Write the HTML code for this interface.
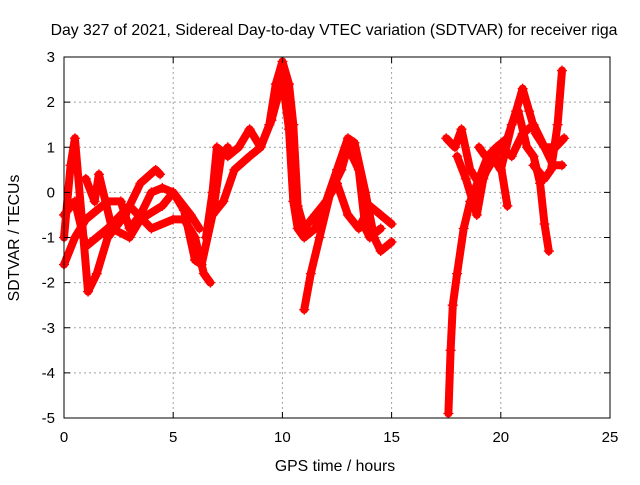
<!DOCTYPE html>
<html><head><meta charset="utf-8"><style>
body{margin:0;background:#fff}
svg text{font-family:"Liberation Sans",sans-serif;font-size:15px;fill:#000}
svg text.big{font-size:15.8px}
</style></head><body>
<svg id="chart" width="640" height="480" viewBox="0 0 640 480" xmlns="http://www.w3.org/2000/svg">
<rect width="640" height="480" fill="#fff"/>
<g id="grid"></g>
<g id="series"></g>
<rect x="64" y="57" width="546" height="361" fill="none" stroke="#000" stroke-width="1"/>
<g id="ticks"></g>
<text class="big" x="334" y="35" text-anchor="middle">Day 327 of 2021, Sidereal Day-to-day VTEC variation (SDTVAR) for receiver riga</text>
<text class="big" x="335" y="471" text-anchor="middle">GPS time / hours</text>
<text class="big" transform="translate(19,238) rotate(-90)" text-anchor="middle">SDTVAR / TECUs</text>
</svg>
<script>
const xTicks=[0,5,10,15,20,25];
const yTicks=[3,2,1,0,-1,-2,-3,-4,-5];
const tA=[0,0.3,0.5,0.8,1.1,1.5,2,2.8,3.5,4.2,4.4];
const vA=[-1.0,0.6,1.2,-0.5,-2.2,-1.8,-1.0,-0.5,0.2,0.5,0.4];
const tB=[0,0.5,1,2,3,4,5,5.5,6,6.4,6.7];
const vB=[-0.5,-0.2,-1.2,-0.8,-0.3,-0.8,-0.6,-0.6,-1.0,-1.8,-2.0];
const tC=[0,0.5,1,2,2.6,3,3.5,4,4.5,5,5.5,6,6.3,6.8,7.2,7.5];
const vC=[-1.6,-1.0,-0.6,-0.2,-0.2,-0.8,-0.5,0,0.1,0,-0.4,-1.5,-1.6,-0.5,0.8,1.0];
const tD=[1,1.4,1.6,2.2,3,3.5,4.5,5,5.8,6.2];
const vD=[0.3,-0.2,0.4,-0.8,-1.0,-0.6,-0.3,0,-0.5,-0.8];
const tE=[6.5,6.8,7.0,7.5,8.0,8.5,9,9.4,9.7,10.0,10.3,10.5,10.7,11,11.5,12,12.5,13,13.5,14,14.5,15];
const vE=[-1.0,0,1.0,0.8,1.0,1.4,1.0,1.5,2.4,2.9,2.4,1.5,-0.3,-0.8,-0.5,-0.2,0.2,-0.5,-0.8,-0.3,-0.5,-0.7];
const tF=[6.8,7.3,7.8,8.5,9.0,9.5,10.0,10.3,10.5,10.7,11.0,11.5,12,12.5,13,13.3,13.8,14.2,14.5,15];
const vF=[-0.5,-0.2,0.5,0.8,1.0,1.6,2.5,1.4,-0.2,-0.8,-1.0,-0.8,-0.2,0.5,1.2,1.1,0,-1.0,-1.3,-1.1];
const tG=[11.0,11.3,11.7,12.2,12.7,13.0,13.5,13.8,14.0,14.5];
const vG=[-2.6,-1.8,-1.0,0,0.5,1.0,0.5,-0.8,-1.0,-0.8];
const tR1=[17.6,17.7,17.8,18,18.3,18.6,19.0,19.4,19.8,20.3,20.7,21.0,21.3,21.6,22.0,22.4,22.8];
const vR1=[-4.9,-3.5,-2.5,-1.8,-0.8,-0.2,0.3,0.8,1.0,1.2,1.8,2.3,1.8,1.3,1.0,0.6,0.6];
const tR2=[17.5,17.9,18.2,18.6,19.0,19.5,20.0,20.5,21.0,21.5,22.0,22.5,22.9];
const vR2=[1.2,1.0,1.4,0.5,0.2,0.6,1.0,0.8,1.3,1.5,1.0,1.0,1.2];
const tR3=[18.0,18.4,18.9,19.2,19.6,20.0,20.5,20.8,21.2,21.5,21.8,22.0,22.2];
const vR3=[0.8,0.3,-0.5,0.3,0.8,0.5,1.5,1.8,1.0,0.8,0.2,-0.7,-1.3];
const tR4=[19.0,19.3,19.7,20.0,20.3];
const vR4=[1.0,0.8,0.8,0.6,-0.3];
const tR5=[21.5,22.0,22.3,22.6,22.8];
const vR5=[0.6,0.3,0.5,1.5,2.7];
const X0=64,X1=610,Y0=418,Y1=57;
const xs=t=>X0+(t-0)/25*(X1-X0);
const ys=v=>Y0-(v+5)/8*(Y0-Y1);
const NS="http://www.w3.org/2000/svg";
const grid=document.getElementById('grid'),ticks=document.getElementById('ticks'),ser=document.getElementById('series');
function mk(tag,attrs,parent){const e=document.createElementNS(NS,tag);for(const k in attrs)e.setAttribute(k,attrs[k]);parent.appendChild(e);return e;}
xTicks.forEach(t=>{const x=xs(t);
 if(t>0&&t<25){const g=mk('line',{x1:x,x2:x,y1:Y1,y2:Y0,stroke:'#a0a0a0','stroke-dasharray':'2,3'},grid);
 
 }
 mk('line',{x1:x,x2:x,y1:Y0,y2:Y0-6,stroke:'#000'},ticks);mk('line',{x1:x,x2:x,y1:Y1,y2:Y1+6,stroke:'#000'},ticks);
 const l=mk('text',{x:x,y:Y0+24,'text-anchor':'middle'},ticks);l.textContent=t;
 
 });
yTicks.forEach(v=>{const y=ys(v);
 if(v>-5&&v<3){const g=mk('line',{x1:X0,x2:X1,y1:y,y2:y,stroke:'#a0a0a0','stroke-dasharray':'2,3'},grid);
 
 }
 mk('line',{x1:X0,x2:X0+6,y1:y,y2:y,stroke:'#000'},ticks);mk('line',{x1:X1,x2:X1-6,y1:y,y2:y,stroke:'#000'},ticks);
 const l=mk('text',{x:X0-9,y:y+5,'text-anchor':'end'},ticks);l.textContent=v;
 
 });
const tracks=[[tA,vA],[tB,vB],[tC,vC],[tD,vD],[tE,vE],[tF,vF],[tG,vG],[tR1,vR1],[tR2,vR2],[tR3,vR3],[tR4,vR4],[tR5,vR5]];
tracks.forEach(([T,V],i)=>{
 const pts=T.map((t,j)=>xs(t).toFixed(1)+','+ys(V[j]).toFixed(1)).join(' ');
 const p=mk('polyline',{points:pts,fill:'none',stroke:'#ff0000','stroke-width':8,'stroke-linejoin':'round','stroke-linecap':'round'},ser);
 
 
 T.forEach((t,j)=>{const x=xs(t),y=ys(V[j]);
  const m=mk('path',{d:`M${x-5},${y}H${x+5}M${x},${y-5}V${y+5}`,stroke:'#ff0000','stroke-width':1.3},ser);
  
  });
});
</script>
</body></html>
